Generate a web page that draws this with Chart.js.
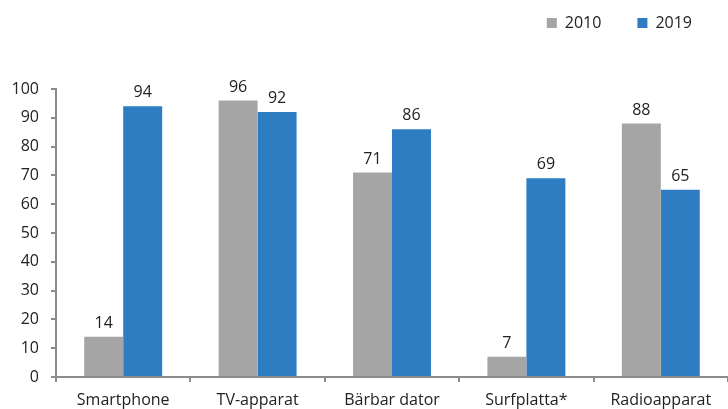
<!DOCTYPE html>
<html>
<head>
<meta charset="utf-8">
<script src="https://cdn.jsdelivr.net/npm/chart.js@4/dist/chart.umd.min.js"></script>
<style>
  html, body { margin: 0; padding: 0; background: #fff; }
  #wrap { width: 728px; height: 409px; }
</style>
</head>
<body>
<div id="wrap"><canvas id="c" width="728" height="409"></canvas></div>
<script>
const categories = ["Smartphone", "TV-apparat", "Bärbar dator", "Surfplatta*", "Radioapparat"];
const values2010 = [14, 96, 71, 7, 88];
const values2019 = [94, 92, 86, 69, 65];
const seriesNames = ["2010", "2019"];
const yTicks = { min: 0, max: 100, step: 10 };

const FONT = "'Open Sans', sans-serif";
const TEXT = "#222222";
const AXIS = "#8c8c8c";

// Writes each bar's value just above it
const valueLabels = {
  id: "valueLabels",
  afterDatasetsDraw(chart) {
    const ctx = chart.ctx;
    ctx.save();
    ctx.font = "16px " + FONT;
    ctx.fillStyle = TEXT;
    ctx.textAlign = "center";
    ctx.textBaseline = "alphabetic";
    chart.data.datasets.forEach((ds, i) => {
      chart.getDatasetMeta(i).data.forEach((bar, j) => {
        ctx.fillText(String(ds.data[j]), bar.x, bar.y - 9);
      });
    });
    ctx.restore();
  }
};

// Lifts the legend row up into the top margin
const legendLift = {
  id: "legendLift",
  afterLayout(chart) {
    const lg = chart.legend;
    if (lg) { lg.top -= 48; lg.bottom -= 48; }
  }
};

new Chart(document.getElementById("c"), {
  type: "bar",
  data: {
    labels: categories,
    datasets: [
      { label: seriesNames[0], data: values2010, backgroundColor: "#a5a5a5" },
      { label: seriesNames[1], data: values2019, backgroundColor: "#2e7dc2" }
    ]
  },
  options: {
    responsive: false,
    animation: false,
    layout: { padding: { top: 27, right: 0, left: 0, bottom: 0 } },
    datasets: { bar: { categoryPercentage: 0.58, barPercentage: 1.0 } },
    plugins: {
      tooltip: { enabled: false },
      legend: {
        position: "top",
        align: "end",
        labels: {
          font: { family: FONT, size: 16 },
          color: TEXT,
          boxWidth: 10,
          boxHeight: 10,
          padding: 36
        }
      }
    },
    scales: {
      x: {
        offset: true,
        afterFit(scale) { scale.height = 32; },
        grid: { display: true, drawOnChartArea: false, drawTicks: true, tickLength: 5, color: AXIS, lineWidth: 2, offset: true },
        border: { display: true, color: AXIS, width: 2 },
        ticks: { font: { family: FONT, size: 16 }, color: TEXT, padding: 9 }
      },
      y: {
        min: yTicks.min,
        max: yTicks.max,
        afterFit(scale) { scale.width = 56; },
        grid: { display: true, drawOnChartArea: false, drawTicks: true, tickLength: 5, color: AXIS, lineWidth: 2 },
        border: { display: true, color: AXIS, width: 2 },
        ticks: { stepSize: yTicks.step, font: { family: FONT, size: 16 }, color: TEXT, padding: 12 }
      }
    }
  },
  plugins: [valueLabels, legendLift]
});
</script>
</body>
</html>
